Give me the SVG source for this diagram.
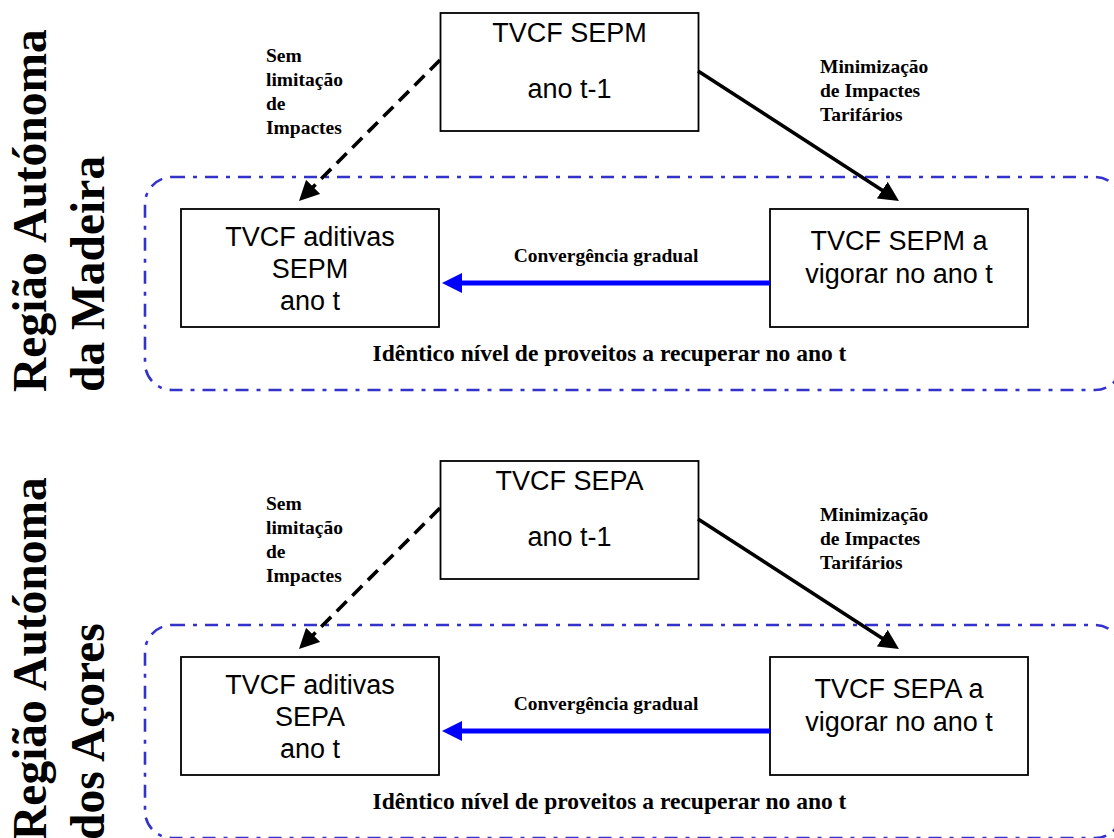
<svg xmlns="http://www.w3.org/2000/svg" width="1114" height="838" viewBox="0 0 1114 838">
  <style>
    .box { fill: #ffffff; stroke: #000000; stroke-width: 1.8; }
    .boxtxt { font-family: "Liberation Sans", Arial, sans-serif; font-size: 27px; fill: #000000; text-anchor: middle; }
    .lbl { font-family: "Liberation Serif", "Times New Roman", serif; font-weight: bold; font-size: 19.5px; fill: #000000; }
    .lbl-big { font-family: "Liberation Serif", "Times New Roman", serif; font-weight: bold; font-size: 23.5px; fill: #000000; text-anchor: middle; }
    .region { font-family: "Liberation Serif", "Times New Roman", serif; font-weight: bold; font-size: 47.5px; fill: #000000; }
    .frame { fill: none; stroke: #3333cc; stroke-width: 2.6; stroke-dasharray: 13 8 4 8; }
    .dashed { fill: none; stroke: #000000; stroke-width: 3.6; stroke-dasharray: 14 8; }
    .solid { fill: none; stroke: #000000; stroke-width: 3.6; }
    .blue { fill: none; stroke: #0000ff; stroke-width: 4.8; }
  </style>
  <defs>
    <marker id="head-black" viewBox="0 0 20 20" refX="5" refY="10" markerWidth="20" markerHeight="20" markerUnits="userSpaceOnUse" orient="auto">
      <path d="M0,0 L20,10 L0,20 Z" fill="#000000"/>
    </marker>
    <marker id="head-blue" viewBox="0 0 20 20" refX="5" refY="10" markerWidth="20" markerHeight="20" markerUnits="userSpaceOnUse" orient="auto">
      <path d="M0,0 L20,10 L0,20 Z" fill="#0000ff"/>
    </marker>
  </defs>
  <rect width="1114" height="838" fill="#ffffff"/>

  <!-- Madeira panel -->
  <g id="panel-madeira">
    <g id="madeira-title">
      <text class="region" transform="translate(46,392) rotate(-90)">Região Autónoma</text>
      <text class="region" transform="translate(104,392) rotate(-90)">da Madeira</text>
    </g>
    <g id="madeira-frame">
      <rect class="frame" x="145" y="177" width="977" height="213" rx="27" ry="27"/>
      <text class="lbl-big" x="609.5" y="361">Idêntico nível de proveitos a recuperar no ano t</text>
    </g>
    <g id="madeira-prev">
      <rect class="box" x="440.5" y="13" width="258" height="118"/>
      <text class="boxtxt" x="569.5" y="42">TVCF SEPM</text>
      <text class="boxtxt" x="569.5" y="98">ano t-1</text>
    </g>
    <g id="madeira-additive">
      <rect class="box" x="181" y="209" width="258" height="118"/>
      <text class="boxtxt" x="310" y="246">TVCF aditivas</text>
      <text class="boxtxt" x="310" y="278">SEPM</text>
      <text class="boxtxt" x="310" y="310">ano t</text>
    </g>
    <g id="madeira-current">
      <rect class="box" x="770" y="209" width="258" height="118"/>
      <text class="boxtxt" x="899" y="250">TVCF SEPM a</text>
      <text class="boxtxt" x="899" y="283">vigorar no ano t</text>
    </g>
    <g id="madeira-connectors">
      <line class="dashed" x1="440" y1="60" x2="309.6" y2="190.4" marker-end="url(#head-black)"/>
      <line class="solid" x1="698" y1="71" x2="886.4" y2="192.9" marker-end="url(#head-black)"/>
      <line class="blue" x1="770" y1="283" x2="457" y2="283" marker-end="url(#head-blue)"/>
      <text class="lbl" x="266" y="62">Sem</text>
      <text class="lbl" x="266" y="86">limitação</text>
      <text class="lbl" x="266" y="110">de</text>
      <text class="lbl" x="266" y="134">Impactes</text>
      <text class="lbl" x="820" y="73">Minimização</text>
      <text class="lbl" x="820" y="97">de Impactes</text>
      <text class="lbl" x="820" y="121">Tarifários</text>
      <text class="lbl" x="606" y="262" text-anchor="middle">Convergência gradual</text>
    </g>
  </g>

  <!-- Azores panel, same layout shifted down -->
  <g id="panel-acores" transform="translate(0,448)">
    <g id="acores-title">
      <text class="region" transform="translate(46,392) rotate(-90)">Região Autónoma</text>
      <text class="region" transform="translate(104,392) rotate(-90)">dos Açores</text>
    </g>
    <g id="acores-frame">
      <rect class="frame" x="145" y="177" width="977" height="213" rx="27" ry="27"/>
      <text class="lbl-big" x="609.5" y="361">Idêntico nível de proveitos a recuperar no ano t</text>
    </g>
    <g id="acores-prev">
      <rect class="box" x="440.5" y="13" width="258" height="118"/>
      <text class="boxtxt" x="569.5" y="42">TVCF SEPA</text>
      <text class="boxtxt" x="569.5" y="98">ano t-1</text>
    </g>
    <g id="acores-additive">
      <rect class="box" x="181" y="209" width="258" height="118"/>
      <text class="boxtxt" x="310" y="246">TVCF aditivas</text>
      <text class="boxtxt" x="310" y="278">SEPA</text>
      <text class="boxtxt" x="310" y="310">ano t</text>
    </g>
    <g id="acores-current">
      <rect class="box" x="770" y="209" width="258" height="118"/>
      <text class="boxtxt" x="899" y="250">TVCF SEPA a</text>
      <text class="boxtxt" x="899" y="283">vigorar no ano t</text>
    </g>
    <g id="acores-connectors">
      <line class="dashed" x1="440" y1="60" x2="309.6" y2="190.4" marker-end="url(#head-black)"/>
      <line class="solid" x1="698" y1="71" x2="886.4" y2="192.9" marker-end="url(#head-black)"/>
      <line class="blue" x1="770" y1="283" x2="457" y2="283" marker-end="url(#head-blue)"/>
      <text class="lbl" x="266" y="62">Sem</text>
      <text class="lbl" x="266" y="86">limitação</text>
      <text class="lbl" x="266" y="110">de</text>
      <text class="lbl" x="266" y="134">Impactes</text>
      <text class="lbl" x="820" y="73">Minimização</text>
      <text class="lbl" x="820" y="97">de Impactes</text>
      <text class="lbl" x="820" y="121">Tarifários</text>
      <text class="lbl" x="606" y="262" text-anchor="middle">Convergência gradual</text>
    </g>
  </g>
</svg>
